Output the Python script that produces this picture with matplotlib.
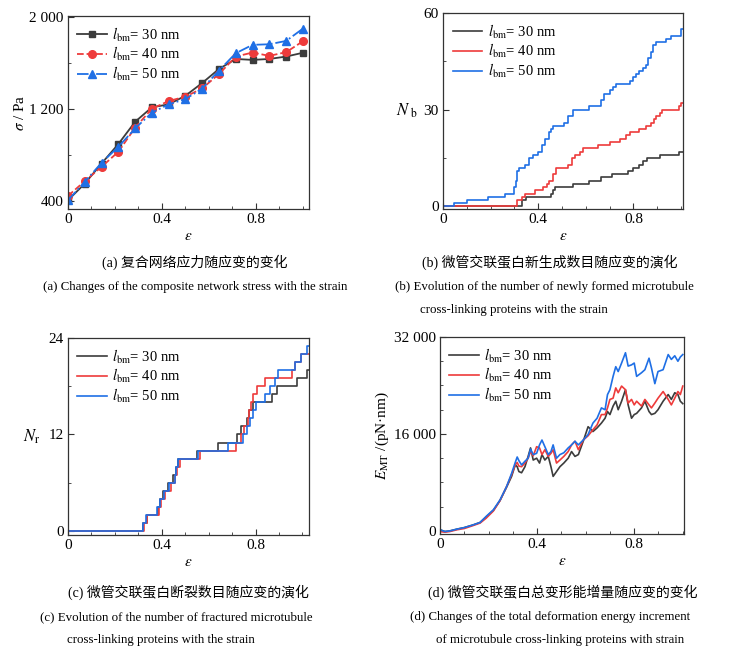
import numpy as np
import matplotlib
matplotlib.use('Agg')
import matplotlib.pyplot as plt
from matplotlib.ticker import MultipleLocator, FixedLocator

plt.rcParams['font.family'] = ['Liberation Serif', 'Noto Sans CJK SC']
plt.rcParams['mathtext.fontset'] = 'stix'
plt.rcParams['axes.linewidth'] = 0.9
plt.rcParams['axes.edgecolor'] = '#333333'

C_BLACK = '#3c3c3c'
C_RED = '#ee3b3b'
C_BLUE = '#1f6fe5'

labels = [r'$l_{\mathrm{bm}}$= 30 nm', r'$l_{\mathrm{bm}}$= 40 nm', r'$l_{\mathrm{bm}}$= 50 nm']

# (a) stress vs strain
strain_a = [0, 0.0714, 0.1429, 0.2143, 0.2857, 0.3571, 0.4286, 0.5, 0.5714,
            0.6429, 0.7143, 0.7857, 0.8571, 0.9286, 1.0]
sigma_30 = [406, 551, 726, 895, 1089, 1215, 1241, 1316, 1427, 1549, 1636, 1628, 1636, 1657, 1690]
sigma_40 = [444, 572, 697, 828, 1037, 1203, 1270, 1308, 1380, 1505, 1657, 1692, 1663, 1695, 1790]
sigma_50 = [406, 566, 732, 871, 1031, 1168, 1241, 1287, 1378, 1535, 1686, 1759, 1764, 1793, 1900]

# (b) newly formed cross-links (step positions and counts)
nb_x_30 = [0, 0.33, 0.35, 0.455, 0.462, 0.47, 0.545, 0.615, 0.665, 0.71, 0.776, 0.80,
           0.825, 0.84, 0.855, 0.91, 0.99, 1.01]
nb_y_30 = [0, 2, 3, 4, 5, 6, 7, 8, 9, 10, 11, 12, 13, 14, 15, 16, 17, 17]
nb_x_40 = [0, 0.309, 0.33, 0.345, 0.385, 0.42, 0.435, 0.445, 0.46, 0.475, 0.525, 0.54,
           0.555, 0.575, 0.59, 0.65, 0.70, 0.745, 0.77, 0.785, 0.825, 0.853, 0.875, 0.885,
           0.895, 0.91, 0.92, 0.99, 1.0, 1.01]
nb_y_40 = [0, 2, 3, 4, 5, 6, 7, 8, 10, 12, 13, 15, 16, 17, 18, 19, 20, 21, 22, 23, 24,
           25, 26, 27, 28, 29, 30, 31, 32, 32]
nb_x_50 = [0, 0.045, 0.10, 0.19, 0.26, 0.30, 0.305, 0.31, 0.318, 0.345, 0.36, 0.38, 0.40,
           0.415, 0.43, 0.445, 0.455, 0.462, 0.51, 0.525, 0.545, 0.615, 0.665, 0.675, 0.70,
           0.714, 0.725, 0.785, 0.797, 0.81, 0.825, 0.84, 0.853, 0.86, 0.872, 0.881, 0.895,
           0.937, 0.958, 1.0, 1.01]
nb_y_50 = [0, 1, 2, 3, 4, 6, 8, 11, 12, 13, 15, 16, 17, 19, 21, 23, 24, 25, 26, 28, 30,
           31, 33, 35, 36, 37, 38, 39, 40, 41, 42, 43, 44, 46, 48, 50, 51, 52, 53, 55, 55]

# (c) fractured cross-links
nr_x_30 = [0, 0.32, 0.335, 0.383, 0.392, 0.405, 0.428, 0.45, 0.462, 0.47, 0.552, 0.641,
           0.719, 0.738, 0.764, 0.772, 0.79, 0.869, 0.89, 0.975, 1.018, 1.03]
nr_y_30 = [0, 1, 2, 3, 4, 5, 6, 7, 8, 9, 10, 11, 12, 13, 14, 15, 16, 17, 18, 19, 20, 20]
nr_x_40 = [0, 0.326, 0.338, 0.39, 0.398, 0.415, 0.438, 0.458, 0.466, 0.476, 0.563, 0.716,
           0.74, 0.75, 0.769, 0.774, 0.78, 0.79, 0.805, 0.84, 0.869, 0.954, 0.968, 0.996, 1.03]
nr_y_40 = [0, 1, 2, 3, 4, 5, 6, 7, 8, 9, 10, 11, 12, 13, 14, 15, 16, 17, 18, 19, 19, 20,
           21, 22, 22]
nr_x_50 = [0, 0.318, 0.333, 0.38, 0.392, 0.41, 0.432, 0.455, 0.462, 0.47, 0.556, 0.684,
           0.745, 0.765, 0.778, 0.79, 0.80, 0.84, 0.862, 0.885, 0.897, 0.968, 0.996, 1.018, 1.03]
nr_y_50 = [0, 1, 2, 3, 4, 5, 6, 7, 8, 9, 10, 11, 12, 13, 14, 15, 16, 17, 18, 19, 20, 21,
           22, 23, 23]

# (d) total deformation energy increment (x1000 pN nm)
strain_d = [0, 0.02, 0.04, 0.07, 0.1, 0.137, 0.165, 0.19, 0.22, 0.247, 0.274, 0.295, 0.31,
            0.318, 0.325, 0.336, 0.35, 0.363, 0.373, 0.384, 0.398, 0.41, 0.42, 0.432, 0.446,
            0.457, 0.466, 0.48, 0.494, 0.51, 0.528, 0.542, 0.556, 0.57, 0.59, 0.61, 0.63,
            0.647, 0.665, 0.68, 0.69, 0.70, 0.713, 0.724, 0.734, 0.748, 0.764, 0.775, 0.789,
            0.80, 0.81, 0.83, 0.844, 0.861, 0.871, 0.885, 0.898, 0.919, 0.94, 0.953, 0.967,
            0.98, 0.99, 1.0]
e_30 = [0.2, -0.1, 0, 0.3, 0.55, 1.0, 1.4, 2.3, 3.4, 5.0, 7.2, 9.0, 10.9, 10.6, 9.8, 9.6,
        10.6, 12.3, 13.7, 11.7, 12.0, 11.2, 12.6, 11.7, 12.3, 10.6, 9.0, 9.8, 10.6, 11.2, 12.0,
        13.1, 12.3, 12.6, 14.8, 17.2, 16.4, 17.0, 17.8, 18.6, 19.7, 19.2, 20.6, 21.4, 20.0,
        21.4, 23.3, 20.8, 18.6, 19.2, 19.4, 20.3, 21.4, 19.7, 19.2, 19.4, 20.0, 21.4, 22.5,
        21.7, 22.8, 22.5, 21.4, 21.0]
e_40 = [-0.1, -0.2, -0.1, 0.2, 0.4, 0.9, 1.3, 2.1, 3.3, 5.0, 7.3, 9.3, 10.9, 11.3, 10.7,
        10.6, 11.2, 12.0, 13.1, 12.4, 13.9, 13.7, 12.6, 13.4, 12.3, 12.8, 13.4, 11.2, 11.7,
        12.3, 13.1, 14.2, 14.8, 13.4, 15.0, 15.7, 16.7, 17.5, 19.2, 19.2, 20.3, 21.7, 21.9,
        23.6, 22.8, 23.9, 23.3, 21.1, 21.7, 20.8, 21.4, 20.6, 21.7, 20.8, 20.3, 21.1, 21.9,
        23.0, 21.7, 20.8, 21.9, 23.0, 22.5, 23.9]
e_50 = [0.2, -0.1, 0, 0.3, 0.55, 1.0, 1.4, 2.4, 3.5, 5.1, 7.3, 9.5, 11.3, 12.2, 11.6, 10.9,
        11.5, 12.0, 13.5, 12.6, 12.8, 14.2, 15.0, 13.9, 12.6, 13.1, 14.2, 12.0, 12.6, 12.9,
        13.7, 14.2, 14.8, 14.2, 15.0, 15.9, 17.8, 18.6, 20.3, 20.0, 22.5, 23.3, 25.5, 27.1,
        26.3, 27.7, 29.4, 27.2, 27.4, 27.7, 25.5, 26.1, 26.6, 28.5, 26.9, 24.3, 26.3, 26.6,
        29.1, 28.3, 28.9, 28.0, 28.7, 29.1]

fig = plt.figure(figsize=(7.38, 6.56), dpi=100)

ax_a = fig.add_axes([0.0921, 0.6814, 0.3266, 0.2942])
ax_b = fig.add_axes([0.6003, 0.6814, 0.3252, 0.2988])
ax_c = fig.add_axes([0.0921, 0.1845, 0.3266, 0.3003])
ax_d = fig.add_axes([0.5962, 0.1860, 0.3306, 0.3003])


def style(ax):
    ax.tick_params(which='both', direction='in', top=False, right=False,
                   labelsize=11, color='#333333', pad=3)
    ax.tick_params(which='major', length=4)
    ax.tick_params(which='minor', length=2.5)
    ax.xaxis.set_major_locator(FixedLocator([0, 0.4, 0.8]))
    ax.xaxis.set_minor_locator(MultipleLocator(0.1))
    ax.set_xticklabels(['0', '0.4', '0.8'])
    ax.set_xlabel(r'$\varepsilon$', fontsize=11, labelpad=3)


# (a)
ax_a.plot(strain_a, sigma_30, '-s', color=C_BLACK, ms=5, lw=1.3, label=labels[0])
ax_a.plot(strain_a, sigma_40, '--o', color=C_RED, ms=5.5, lw=1.3, label=labels[1])
ax_a.plot(strain_a, sigma_50, '-.^', color=C_BLUE, ms=5.5, lw=1.3, label=labels[2])
style(ax_a)
ax_a.set_xlim(0, 1.026)
ax_a.set_ylim(330, 2010)
ax_a.yaxis.set_major_locator(FixedLocator([400, 1200, 2000]))
ax_a.yaxis.set_minor_locator(FixedLocator([800, 1600]))
ax_a.set_yticklabels(['400', '1 200', '2 000'])
ax_a.set_ylabel(r'$\sigma$ / Pa', fontsize=11, labelpad=2)

# (b)
ax_b.step(nb_x_30, nb_y_30, where='post', color=C_BLACK, lw=1.2, label=labels[0])
ax_b.step(nb_x_40, nb_y_40, where='post', color=C_RED, lw=1.2, label=labels[1])
ax_b.step(nb_x_50, nb_y_50, where='post', color=C_BLUE, lw=1.2, label=labels[2])
style(ax_b)
ax_b.set_xlim(0, 1.008)
ax_b.set_ylim(-0.8, 60)
ax_b.yaxis.set_major_locator(FixedLocator([0, 30, 60]))
ax_b.yaxis.set_minor_locator(FixedLocator([15, 45]))
ax_b.set_ylabel(r'$N_{\ \mathrm{b}}$', fontsize=12, rotation=0, labelpad=12, va='center')

# (c)
ax_c.step(nr_x_30, nr_y_30, where='post', color=C_BLACK, lw=1.2, label=labels[0])
ax_c.step(nr_x_40, nr_y_40, where='post', color=C_RED, lw=1.2, label=labels[1])
ax_c.step(nr_x_50, nr_y_50, where='post', color=C_BLUE, lw=1.2, label=labels[2])
style(ax_c)
ax_c.set_xlim(0, 1.028)
ax_c.set_ylim(-0.5, 24)
ax_c.yaxis.set_major_locator(FixedLocator([0, 12, 24]))
ax_c.yaxis.set_minor_locator(FixedLocator([6, 18]))
ax_c.set_ylabel(r'$N_{\mathrm{r}}$', fontsize=12, rotation=0, labelpad=12, va='center')

# (d)
ax_d.plot(strain_d, np.array(e_30) * 1000, color=C_BLACK, lw=1.2, label=labels[0])
ax_d.plot(strain_d, np.array(e_40) * 1000, color=C_RED, lw=1.2, label=labels[1])
ax_d.plot(strain_d, np.array(e_50) * 1000, color=C_BLUE, lw=1.2, label=labels[2])
style(ax_d)
ax_d.set_xlim(0, 1.005)
ax_d.set_ylim(-500, 32000)
ax_d.yaxis.set_major_locator(FixedLocator([0, 16000, 32000]))
ax_d.yaxis.set_minor_locator(MultipleLocator(4000))
ax_d.set_yticklabels(['0', '16 000', '32 000'])
ax_d.set_ylabel(r'$E_{\mathrm{MT}}$ /(pN·nm)', fontsize=11, labelpad=2)

for ax in (ax_a, ax_b, ax_c, ax_d):
    ax.legend(loc='upper left', frameon=False, fontsize=10.5, handlelength=2.0,
              handletextpad=0.4, labelspacing=0.12, borderaxespad=0.25)

cap_kw = dict(fontsize=10, family=['Liberation Serif', 'Noto Sans CJK SC'])
en_kw = dict(fontsize=9.3, family=['Liberation Serif'])

fig.text(0.264, 1 - 262 / 656, '(a) 复合网络应力随应变的变化', ha='center', va='center', **cap_kw)
fig.text(0.264, 1 - 287 / 656, '(a) Changes of the composite network stress with the strain',
         ha='center', va='center', **en_kw)

fig.text(0.745, 1 - 262 / 656, '(b) 微管交联蛋白新生成数目随应变的演化', ha='center', va='center', **cap_kw)
fig.text(395 / 738, 1 - 287 / 656, '(b) Evolution of the number of newly formed microtubule',
         ha='left', va='center', **en_kw)
fig.text(420 / 738, 1 - 310 / 656, 'cross-linking proteins with the strain',
         ha='left', va='center', **en_kw)

fig.text(188 / 738, 1 - 592 / 656, '(c) 微管交联蛋白断裂数目随应变的演化', ha='center', va='center', **cap_kw)
fig.text(40 / 738, 1 - 617 / 656, '(c) Evolution of the number of fractured microtubule',
         ha='left', va='center', **en_kw)
fig.text(67 / 738, 1 - 640 / 656, 'cross-linking proteins with the strain',
         ha='left', va='center', **en_kw)

fig.text(563 / 738, 1 - 592 / 656, '(d) 微管交联蛋白总变形能增量随应变的变化', ha='center', va='center', **cap_kw)
fig.text(410 / 738, 1 - 617 / 656, '(d) Changes of the total deformation energy increment',
         ha='left', va='center', **en_kw)
fig.text(436 / 738, 1 - 640 / 656, 'of microtubule cross-linking proteins with strain',
         ha='left', va='center', **en_kw)

fig.savefig('out.png', dpi=100)
